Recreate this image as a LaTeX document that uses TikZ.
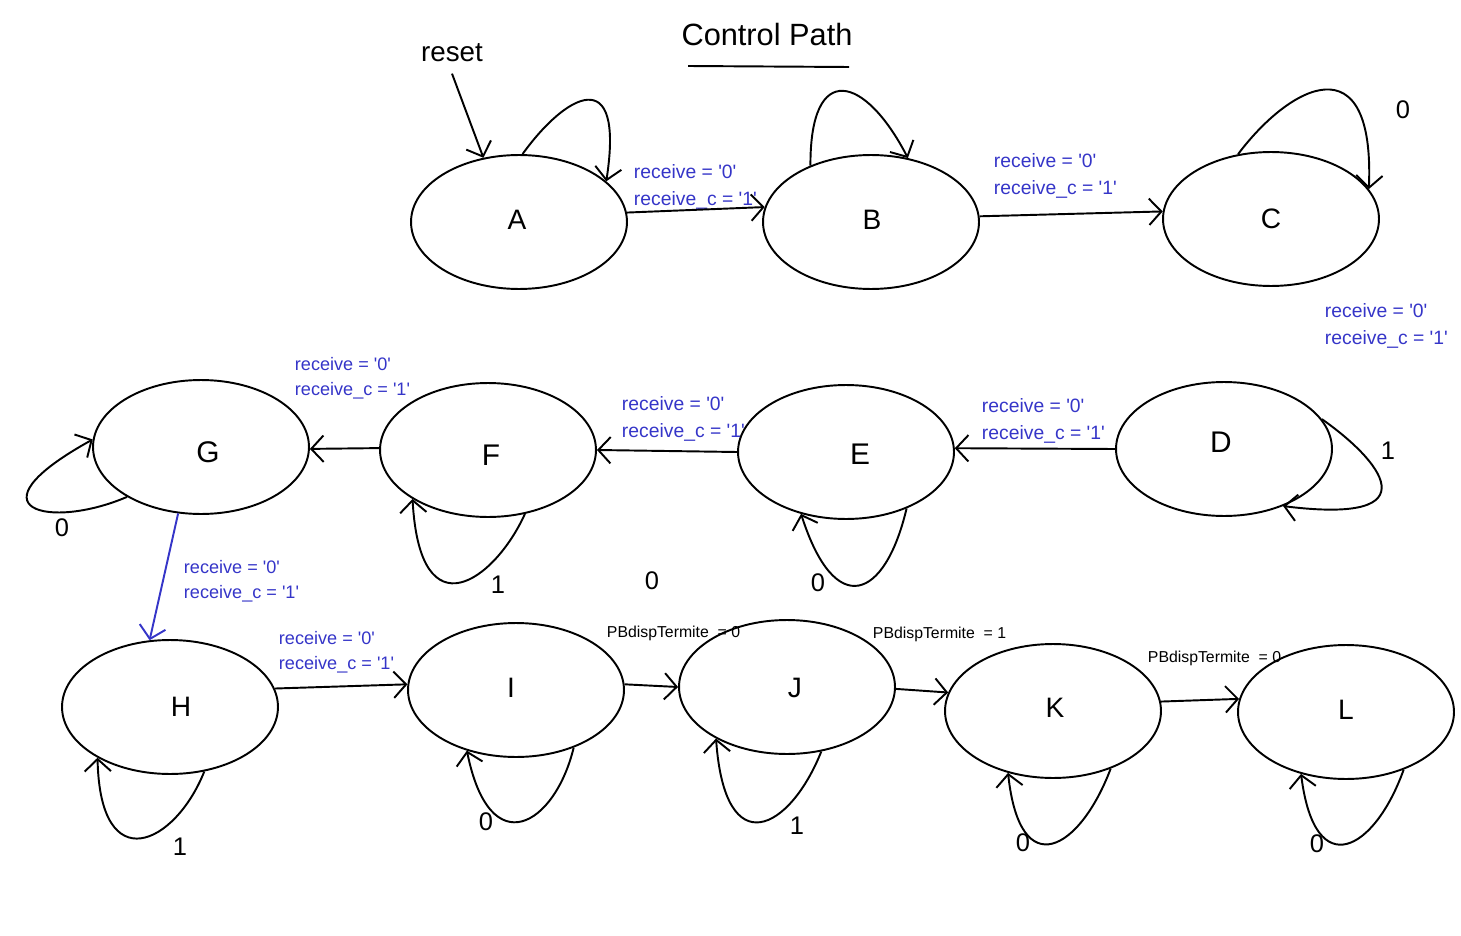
\documentclass[tikz,border=0pt]{standalone}
\usepackage{fontspec}
\setmainfont{Liberation Sans}
\usetikzlibrary{arrows.meta,shapes.geometric}
\definecolor{LabelBlue}{HTML}{3535C8}
\newcommand{\qbit}[1]{\textquotesingle#1\textquotesingle}

\begin{document}
\begin{tikzpicture}[x=0.02cm, y=-0.02cm, line width=1.1pt,
      -{Straight Barb[length=7pt,width=15pt]},
      every node/.append style={inner sep=0pt},
      state/.style={draw, ellipse, minimum width=4.32cm, minimum height=2.68cm},
      letter/.style 2 args={label={[shift={#1}, font=\fontsize{16}{19}\selectfont]center:#2}},
      bigletter/.style 2 args={label={[shift={#1}, font=\fontsize{17}{20}\selectfont]center:#2}},
      cond/.style={anchor=north west, align=left, text=LabelBlue,
        font=\fontsize{11}{15.3}\selectfont},
      condsmall/.style={cond, font=\fontsize{10.3}{14.2}\selectfont},
      termite/.style={anchor=north west, font=\fontsize{9}{11}\selectfont},
      bitlabel/.style={font=\fontsize{14.5}{17}\selectfont}]
    \useasboundingbox (0,0) rectangle (1461,936);
    \node (title) at (767,35) [font=\fontsize{17.5}{21}\selectfont] {Control Path};
    \draw[-] (688,66) -- (849,67);
    \node (reset) at (452,53) [font=\fontsize{15.8}{19}\selectfont, inner sep=6pt] {reset};

    \node (A) at (519,222) [state, letter={(-2,-2)}{A}] {};
    \node (B) at (871,222) [state, letter={(1,-2)}{B}] {};
    \node (C) at (1271,219) [state, letter={(0,0)}{C}] {};
    \node (D) at (1224,449) [state, bigletter={(-3,-7)}{D}] {};
    \node (E) at (846,452) [state, bigletter={(14,2)}{E}] {};
    \node (F) at (488,450) [state, bigletter={(3,5)}{F}] {};
    \node (G) at (201,447) [state, bigletter={(7,5)}{G}] {};
    \node (H) at (170,707) [state, letter={(11,0)}{H}] {};
    \node (I) at (516,690) [state, letter={(-5,-2)}{I}] {};
    \node (J) at (787,687) [state, letter={(8,1)}{J}] {};
    \node (K) at (1053,711) [state, letter={(2,-3)}{K}] {};
    \node (L) at (1346,712) [state, letter={(0,-2)}{L}] {};

    \node (condAB) at (633,164) [cond] {receive = \qbit0\\receive\_c = \qbit1};
    \node (condBC) at (993,153) [cond] {receive = \qbit0\\receive\_c = \qbit1};
    \node (condCD) at (1324,303) [cond] {receive = \qbit0\\receive\_c = \qbit1};
    \node (condDE) at (981,398) [cond] {receive = \qbit0\\receive\_c = \qbit1};
    \node (condEF) at (621,396) [cond] {receive = \qbit0\\receive\_c = \qbit1};
    \node (condFG) at (294,356) [condsmall] {receive = \qbit0\\receive\_c = \qbit1};
    \node (condGH) at (183,559) [condsmall] {receive = \qbit0\\receive\_c = \qbit1};
    \node (condHI) at (278,630) [condsmall] {receive = \qbit0\\receive\_c = \qbit1};
    \node (condIJ) at (606,625) [termite] {PBdispTermite\ \ = 0};
    \node (condJK) at (872,626) [termite] {PBdispTermite\ \ = 1};
    \node (condKL) at (1147,650) [termite] {PBdispTermite\ \ = 0};

    \node (bitC) at (1403,110) [bitlabel] {0};
    \node (bitD) at (1388,451) [bitlabel] {1};
    \node (bitE) at (818,583) [bitlabel] {0};
    \node (bitEF) at (652,581) [bitlabel] {0};
    \node (bitF) at (498,585) [bitlabel] {1};
    \node (bitG) at (62,528) [bitlabel] {0};
    \node (bitH) at (180,847) [bitlabel] {1};
    \node (bitI) at (486,822) [bitlabel] {0};
    \node (bitJ) at (797,826) [bitlabel] {1};
    \node (bitK) at (1023,843) [bitlabel] {0};
    \node (bitL) at (1317,844) [bitlabel] {0};

    \draw (reset.south) -- (A.119);
    \draw (A.5) -- (B.172);
    \draw (B.3) -- (C.176);
    \draw (D.180) -- (E.2);
    \draw (E.180) -- (F.0);
    \draw (F.179) -- (G.359);
    \draw[LabelBlue] (G.251) -- (H.107);
    \draw (H.10) -- (I.177);
    \draw (I.3) -- (J.180);
    \draw (J.-1) -- (K.170);
    \draw (K.5) -- (L.173);

    \draw (A.87) .. controls (565,95) and (625,60) .. (A.25);
    \draw (B.137) .. controls (810,60) and (865,75) .. (B.60);
    \draw (C.117) .. controls (1290,85) and (1375,40) .. (C.17);
    \draw (D.17) .. controls (1380,460) and (1435,525) .. (D.-44);
    \draw (E.-43) .. controls (885,600) and (835,620) .. (E.234);
    \draw (F.-60) .. controls (495,580) and (420,635) .. (F.213);
    \draw (G.214) .. controls (50,530) and (-35,510) .. (G.176);
    \draw (H.-62) .. controls (175,845) and (100,880) .. (H.215);
    \draw (I.-45) .. controls (555,825) and (490,865) .. (I.231);
    \draw (J.-62) .. controls (790,830) and (725,865) .. (J.216);
    \draw (K.-45) .. controls (1080,850) and (1020,885) .. (K.234);
    \draw (L.-45) .. controls (1375,850) and (1315,885) .. (L.234);
\end{tikzpicture}
\end{document}
